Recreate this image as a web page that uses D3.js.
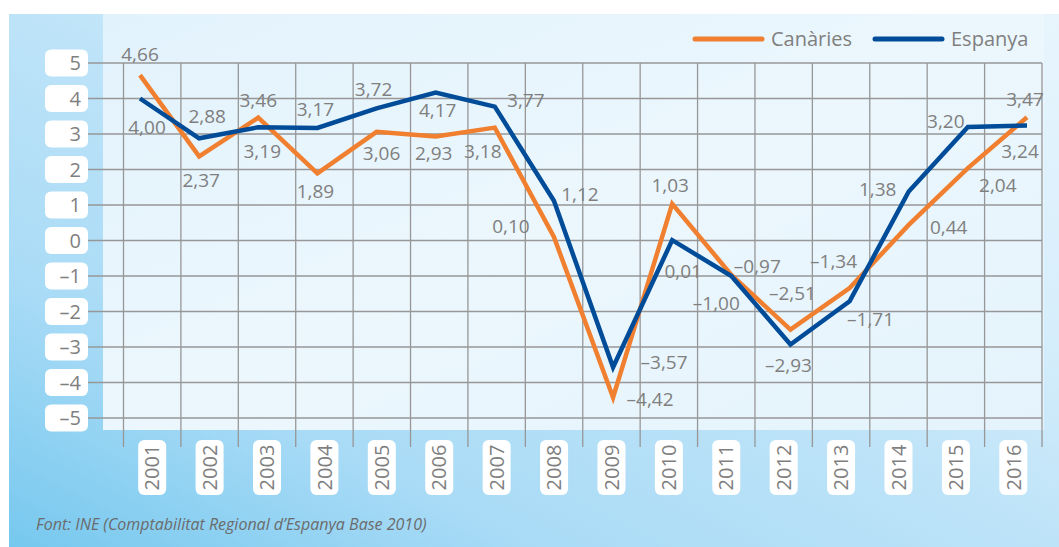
<!DOCTYPE html>
<html>
<head>
<meta charset="utf-8">
<script src="https://cdn.jsdelivr.net/npm/d3@7"></script>
<style>
  html, body { margin: 0; padding: 0; background: #fff; }
  svg { display: block; font-family: 'Open Sans', 'Noto Sans', sans-serif; }
</style>
</head>
<body>
<svg id="chart" width="1059" height="547"></svg>
<script>
const years = ['2001', '2002', '2003', '2004', '2005', '2006', '2007', '2008',
	'2009', '2010', '2011', '2012', '2013', '2014', '2015', '2016'];
const canaries = [4.66, 2.37, 3.46, 1.89, 3.06, 2.93, 3.18, 0.10,
	-4.42, 1.03, -0.97, -2.51, -1.34, 0.44, 2.04, 3.47];
const espanya = [4.00, 2.88, 3.19, 3.17, 3.72, 4.17, 3.77, 1.12,
	-3.57, 0.01, -1.00, -2.93, -1.71, 1.38, 3.20, 3.24];
const yTicks = [5, 4, 3, 2, 1, 0, -1, -2, -3, -4, -5];
const seriesNames = ['Canàries', 'Espanya'];
const source = 'Font: INE (Comptabilitat Regional d’Espanya Base 2010)';

// where each value label sits relative to its point (px)
const canLabelDx = [0, 2, 0, -2, 5, -2, -12, -43, 37, -2, 26, 2, -16, 40, 30, -2];
const canLabelDy = [-21, 24, -18, 18, 21, 17, 24, -11, 2, -19, -9, -36, -27, 2, 17, -18];
const espLabelDx = [7, 8, 4, -2, -3, 2, 31, 26, 51, 11, -15, -2, 21, -31, -22, -7];
const espLabelDy = [29, -22, 24, -19, -19, 18, -7, -7, -5, 31, 27, 21, 18, -2, -6, 26];

const orange = '#f07f30';
const blue = '#004c98';
const grey = '#7f7f7f';

const svg = d3.select('#chart');
const W = 1059, H = 547;

const locale = d3.formatLocale({ decimal: ',', thousands: '.', grouping: [3], currency: ['', '€'], minus: '–' });
const fmt = locale.format('.2f');
const fmtTick = locale.format('d');

// background
const defs = svg.append('defs');
const bg = defs.append('linearGradient').attr('id', 'bg')
	.attr('x1', '100%').attr('y1', '0%').attr('x2', '0%').attr('y2', '100%');
bg.append('stop').attr('offset', '0%').attr('stop-color', '#e8f5fd');
bg.append('stop').attr('offset', '30%').attr('stop-color', '#d6eefb');
bg.append('stop').attr('offset', '50%').attr('stop-color', '#bde3f8');
bg.append('stop').attr('offset', '75%').attr('stop-color', '#a9dbf6');
bg.append('stop').attr('offset', '100%').attr('stop-color', '#76c8ee');

const panel = defs.append('linearGradient').attr('id', 'panel')
	.attr('x1', '0%').attr('y1', '0%').attr('x2', '100%').attr('y2', '100%');
panel.append('stop').attr('offset', '0%').attr('stop-color', '#e2f2fc');
panel.append('stop').attr('offset', '50%').attr('stop-color', '#ecf7fd');
panel.append('stop').attr('offset', '100%').attr('stop-color', '#e4f3fc');

svg.append('rect').attr('x', 9).attr('y', 14).attr('width', W - 9).attr('height', H - 14)
	.attr('fill', 'url(#bg)');
svg.append('rect').attr('x', 103).attr('y', 14).attr('width', 941).attr('height', 416)
	.attr('fill', 'url(#panel)');

// scales
const xGrid = d3.scaleBand().domain(years).range([123.5, 1042]);
const x = d3.scalePoint().domain(years).range([140, 1027]);
const y = d3.scaleLinear().domain([-5, 5]).range([418, 63]);

// grid
const grid = svg.append('g').attr('stroke', '#979797').attr('stroke-width', 1.3);
grid.selectAll('line.h').data(yTicks).enter().append('line')
	.attr('x1', 88).attr('x2', xGrid.range()[1])
	.attr('y1', d => y(d)).attr('y2', d => y(d));
const bounds = years.map(d => xGrid(d)).concat([xGrid.range()[1]]);
grid.selectAll('line.v').data(bounds).enter().append('line')
	.attr('x1', d => d).attr('x2', d => d)
	.attr('y1', y(5)).attr('y2', 447);

// y axis labels
const yl = svg.append('g').selectAll('g').data(yTicks).enter().append('g')
	.attr('transform', d => `translate(0,${y(d)})`);
yl.append('rect').attr('x', 45).attr('y', -13.5).attr('width', 43).attr('height', 27)
	.attr('rx', 6).attr('fill', '#fff');
yl.append('text').attr('x', 81).attr('dy', '0.36em').attr('text-anchor', 'end')
	.attr('font-size', 20).attr('fill', grey).text(d => fmtTick(d));

// x axis labels
const xl = svg.append('g').selectAll('g').data(years).enter().append('g')
	.attr('transform', d => `translate(${xGrid(d) + xGrid.bandwidth() / 2},467.5)`);
xl.append('rect').attr('x', -14).attr('y', -27.5).attr('width', 28).attr('height', 55)
	.attr('rx', 6).attr('fill', '#fff');
xl.append('text').attr('transform', 'rotate(-90)').attr('dy', '0.36em')
	.attr('text-anchor', 'middle').attr('font-size', 20).attr('fill', grey).text(d => d);

// lines
const line = d3.line().x((d, i) => x(years[i])).y(d => y(d));
const series = [
	{ name: seriesNames[0], values: canaries, color: orange, dx: canLabelDx, dy: canLabelDy },
	{ name: seriesNames[1], values: espanya, color: blue, dx: espLabelDx, dy: espLabelDy }
];

svg.append('g').selectAll('path').data(series).enter().append('path')
	.attr('d', d => line(d.values))
	.attr('fill', 'none')
	.attr('stroke', d => d.color)
	.attr('stroke-width', 4.5)
	.attr('stroke-linejoin', 'miter')
	.attr('stroke-miterlimit', 10);

// value labels
series.forEach(s => {
	svg.append('g').selectAll('text').data(s.values).enter().append('text')
		.attr('x', (d, i) => x(years[i]) + s.dx[i])
		.attr('y', (d, i) => y(d) + s.dy[i])
		.attr('dy', '0.36em')
		.attr('text-anchor', 'middle')
		.attr('font-size', 19)
		.attr('fill', grey)
		.text(d => fmt(d));
});

// legend
const legend = svg.append('g').attr('transform', 'translate(695,39)');
const legendX = [0, 180];
const lg = legend.selectAll('g').data(series).enter().append('g')
	.attr('transform', (d, i) => `translate(${legendX[i]},0)`);
lg.append('line').attr('x1', 0).attr('x2', 67)
	.attr('stroke', d => d.color).attr('stroke-width', 5).attr('stroke-linecap', 'round');
lg.append('text').attr('x', 76).attr('dy', '0.36em').attr('font-size', 20)
	.attr('fill', grey).text(d => d.name);

// source
svg.append('text').attr('x', 36).attr('y', 530)
	.attr('font-size', 16).attr('font-style', 'italic').attr('fill', '#6b6b6b')
	.text(source);
</script>
</body>
</html>
